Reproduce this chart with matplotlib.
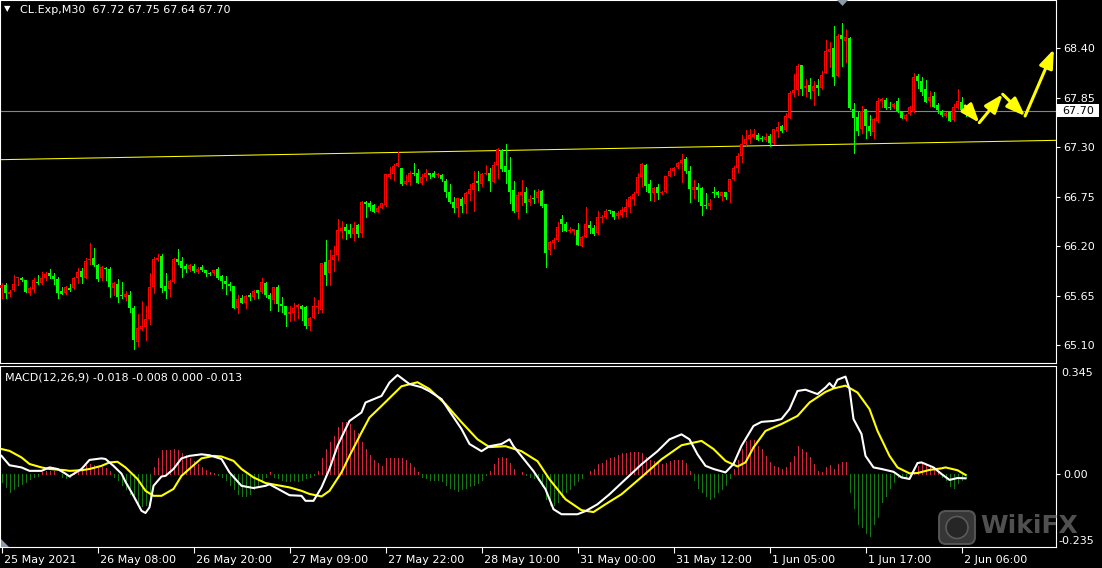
import matplotlib
matplotlib.use("Agg")
import matplotlib.pyplot as plt
import numpy as np
from matplotlib.patches import Rectangle, Polygon, FancyBboxPatch, Circle
from matplotlib.transforms import ScaledTranslation, Affine2D

# ---------------- data ----------------
opens = [65.730, 65.767, 65.667, 65.708, 65.845, 65.848, 65.822, 65.682, 65.719, 65.804,
         65.793, 65.841, 65.896, 65.867, 65.833, 65.700, 65.682, 65.737, 65.730, 65.841,
         65.922, 65.848, 66.045, 66.067, 65.989, 65.848, 65.959, 65.945, 65.737, 65.774,
         65.656, 65.637, 65.656, 65.511, 65.137, 65.274, 65.300, 65.393, 65.748, 66.048,
         66.089, 65.756, 65.719, 65.796, 66.056, 66.034, 65.978, 65.941, 65.975, 65.911,
         65.967, 65.933, 65.900, 65.900, 65.945, 65.870, 65.811, 65.782, 65.756, 65.508,
         65.622, 65.563, 65.660, 65.630, 65.711, 65.693, 65.785, 65.656, 65.604, 65.745,
         65.556, 65.534, 65.448, 65.452, 65.519, 65.534, 65.522, 65.315, 65.404, 65.526,
         65.489, 66.019, 65.896, 66.045, 66.100, 66.370, 66.407, 66.378, 66.330, 66.433,
         66.341, 66.685, 66.682, 66.656, 66.582, 66.619, 66.656, 66.963, 66.999, 67.093,
         67.070, 66.885, 66.915, 67.015, 67.015, 66.904, 66.963, 67.015, 67.015, 66.985,
         66.993, 66.926, 66.800, 66.693, 66.619, 66.722, 66.663, 66.774, 66.822, 66.922,
         66.889, 67.004, 67.008, 66.915, 67.100, 67.267, 67.089, 67.045, 66.822, 66.581,
         66.770, 66.804, 66.685, 66.737, 66.730, 66.815, 66.667, 66.156, 66.230, 66.267,
         66.500, 66.444, 66.372, 66.370, 66.378, 66.204, 66.304, 66.430, 66.396, 66.348,
         66.507, 66.518, 66.592, 66.589, 66.533, 66.544, 66.581, 66.637, 66.726, 66.785,
         66.970, 67.100, 66.885, 66.793, 66.852, 66.793, 66.804, 66.981, 67.037, 67.074,
         67.119, 67.163, 67.033, 66.826, 66.856, 66.848, 66.652, 66.645, 66.796, 66.804,
         66.759, 66.800, 66.796, 66.944, 67.070, 67.200, 67.330, 67.393, 67.415, 67.433,
         67.398, 67.378, 67.426, 67.341, 67.481, 67.533, 67.489, 67.626, 67.900, 67.933,
         68.211, 67.959, 67.989, 67.926, 67.989, 67.952, 68.126, 68.352, 68.404, 68.093,
         68.544, 68.481, 68.507, 67.719, 67.633, 67.496, 67.722, 67.533, 67.470, 67.593,
         67.811, 67.822, 67.740, 67.748, 67.811, 67.704, 67.611, 67.663, 67.693, 68.089,
         68.033, 67.944, 67.815, 67.867, 67.767, 67.704, 67.644, 67.693, 67.600, 67.730,
         67.796, 67.72]
highs = [65.785, 65.785, 65.708, 65.878, 65.859, 65.859, 65.822, 65.748, 65.848, 65.878,
         65.915, 65.915, 65.945, 65.896, 65.852, 65.748, 65.759, 65.774, 65.859, 65.952,
         65.959, 66.063, 66.230, 66.174, 65.996, 65.982, 65.971, 65.963, 65.804, 65.833,
         65.796, 65.700, 65.700, 65.534, 65.441, 65.589, 65.537, 65.896, 66.082, 66.111,
         66.115, 65.896, 65.822, 66.063, 66.167, 66.082, 66.000, 66.000, 65.996, 65.963,
         65.985, 65.933, 65.915, 65.930, 65.967, 65.878, 65.867, 65.804, 65.756, 65.656,
         65.656, 65.656, 65.674, 65.711, 65.711, 65.841, 65.800, 65.674, 65.741, 65.763,
         65.630, 65.534, 65.534, 65.563, 65.552, 65.545, 65.530, 65.415, 65.637, 65.600,
         66.015, 66.267, 66.156, 66.200, 66.500, 66.478, 66.445, 66.445, 66.463, 66.445,
         66.700, 66.700, 66.696, 66.663, 66.645, 66.682, 67.000, 67.074, 67.108, 67.241,
         67.070, 66.989, 67.033, 67.126, 67.056, 66.996, 67.056, 67.015, 67.033, 67.015,
         67.004, 66.944, 66.885, 66.741, 66.737, 66.748, 66.804, 66.885, 67.033, 67.033,
         67.008, 67.100, 67.063, 67.130, 67.285, 67.278, 67.333, 67.193, 66.922, 66.796,
         66.933, 66.859, 66.767, 66.822, 66.833, 66.822, 66.667, 66.256, 66.285, 66.463,
         66.544, 66.463, 66.415, 66.385, 66.452, 66.315, 66.630, 66.478, 66.433, 66.589,
         66.544, 66.607, 66.600, 66.589, 66.589, 66.630, 66.722, 66.756, 66.804, 67.008,
         67.126, 67.108, 66.933, 66.852, 66.885, 66.811, 66.981, 67.070, 67.081, 67.130,
         67.222, 67.185, 67.089, 66.933, 66.904, 66.852, 66.785, 66.719, 66.859, 66.811,
         66.804, 66.800, 66.944, 67.089, 67.230, 67.433, 67.489, 67.496, 67.496, 67.452,
         67.422, 67.452, 67.444, 67.504, 67.581, 67.544, 67.674, 67.922, 68.107, 68.218,
         68.211, 68.056, 68.063, 68.037, 68.052, 68.144, 68.489, 68.470, 68.644, 68.556,
         68.674, 68.607, 68.526, 67.785, 67.685, 67.756, 67.722, 67.656, 67.619, 67.841,
         67.841, 67.841, 67.796, 67.789, 67.841, 67.704, 67.667, 67.759, 68.119, 68.107,
         68.081, 68.044, 67.922, 67.915, 67.785, 67.711, 67.693, 67.700, 67.774, 67.944,
         67.859, 67.75]
lows = [65.626, 65.619, 65.648, 65.700, 65.767, 65.815, 65.693, 65.656, 65.693, 65.778,
        65.778, 65.822, 65.848, 65.778, 65.626, 65.667, 65.671, 65.700, 65.722, 65.785,
        65.785, 65.841, 65.996, 65.982, 65.811, 65.822, 65.822, 65.637, 65.656, 65.574,
        65.619, 65.600, 65.463, 65.056, 65.093, 65.267, 65.156, 65.333, 65.682, 66.037,
        65.693, 65.626, 65.648, 65.785, 65.996, 65.859, 65.915, 65.922, 65.915, 65.896,
        65.926, 65.867, 65.878, 65.874, 65.837, 65.737, 65.667, 65.711, 65.515, 65.460,
        65.563, 65.508, 65.600, 65.608, 65.626, 65.682, 65.630, 65.489, 65.563, 65.478,
        65.470, 65.315, 65.370, 65.378, 65.404, 65.378, 65.293, 65.267, 65.404, 65.452,
        65.470, 65.767, 65.767, 65.926, 66.045, 66.285, 66.278, 66.304, 66.267, 66.304,
        66.304, 66.526, 66.600, 66.582, 66.582, 66.619, 66.645, 66.952, 66.933, 67.093,
        66.878, 66.885, 66.878, 66.989, 66.904, 66.889, 66.933, 66.959, 66.967, 66.967,
        66.926, 66.748, 66.682, 66.581, 66.537, 66.581, 66.570, 66.711, 66.592, 66.822,
        66.870, 67.000, 66.815, 66.915, 66.952, 67.033, 66.904, 66.682, 66.581, 66.507,
        66.656, 66.581, 66.656, 66.674, 66.693, 66.637, 65.970, 66.111, 66.174, 66.256,
        66.367, 66.370, 66.359, 66.330, 66.211, 66.204, 66.296, 66.341, 66.322, 66.333,
        66.470, 66.507, 66.563, 66.496, 66.507, 66.518, 66.533, 66.581, 66.656, 66.767,
        66.870, 66.815, 66.711, 66.704, 66.719, 66.778, 66.796, 66.981, 66.989, 67.063,
        66.915, 67.007, 66.693, 66.730, 66.704, 66.544, 66.626, 66.611, 66.748, 66.750,
        66.711, 66.719, 66.693, 66.933, 67.026, 67.137, 67.322, 67.341, 67.396, 67.378,
        67.370, 67.363, 67.311, 67.330, 67.415, 67.470, 67.481, 67.619, 67.870, 67.878,
        67.878, 67.870, 67.848, 67.767, 67.878, 67.944, 68.119, 68.193, 67.989, 68.093,
        68.204, 68.248, 67.722, 67.237, 67.433, 67.459, 67.404, 67.433, 67.404, 67.581,
        67.748, 67.719, 67.722, 67.737, 67.693, 67.626, 67.600, 67.656, 67.685, 67.952,
        67.878, 67.796, 67.759, 67.748, 67.674, 67.648, 67.637, 67.593, 67.593, 67.722,
        67.685, 67.64]
closes = [65.767, 65.682, 65.693, 65.774, 65.850, 65.822, 65.693, 65.730, 65.822, 65.785,
          65.841, 65.889, 65.867, 65.833, 65.682, 65.667, 65.745, 65.711, 65.841, 65.908,
          65.859, 66.034, 66.056, 65.989, 65.833, 65.971, 65.948, 65.748, 65.785, 65.637,
          65.645, 65.667, 65.515, 65.156, 65.285, 65.311, 65.389, 65.745, 66.059, 66.070,
          65.737, 65.700, 65.811, 66.056, 66.019, 65.959, 65.948, 65.989, 65.926, 65.941,
          65.933, 65.900, 65.893, 65.930, 65.845, 65.815, 65.778, 65.756, 65.515, 65.608,
          65.563, 65.641, 65.634, 65.697, 65.678, 65.796, 65.660, 65.611, 65.741, 65.559,
          65.537, 65.437, 65.470, 65.515, 65.541, 65.504, 65.315, 65.396, 65.533, 65.537,
          66.008, 65.878, 66.045, 66.096, 66.378, 66.400, 66.370, 66.333, 66.404, 66.330,
          66.685, 66.667, 66.637, 66.582, 66.619, 66.674, 66.999, 67.000, 67.089, 67.119,
          66.885, 66.922, 67.008, 66.996, 66.904, 66.970, 67.015, 66.989, 66.967, 66.993,
          66.941, 66.796, 66.685, 66.626, 66.730, 66.648, 66.793, 66.830, 66.904, 66.896,
          66.996, 67.015, 66.922, 67.100, 67.278, 67.056, 67.026, 66.804, 66.589, 66.767,
          66.796, 66.674, 66.722, 66.719, 66.804, 66.644, 66.126, 66.241, 66.267, 66.407,
          66.441, 66.370, 66.378, 66.385, 66.211, 66.300, 66.441, 66.404, 66.333, 66.518,
          66.526, 66.589, 66.585, 66.526, 66.570, 66.600, 66.630, 66.748, 66.778, 66.963,
          67.111, 66.870, 66.793, 66.841, 66.793, 66.800, 66.978, 67.033, 67.063, 67.119,
          67.156, 67.037, 66.833, 66.856, 66.822, 66.648, 66.645, 66.682, 66.785, 66.762,
          66.796, 66.748, 66.944, 67.070, 67.200, 67.333, 67.389, 67.433, 67.444, 67.378,
          67.393, 67.415, 67.348, 67.496, 67.526, 67.478, 67.644, 67.896, 67.933, 68.200,
          67.944, 67.982, 67.915, 67.978, 67.952, 68.100, 68.367, 68.385, 68.081, 68.533,
          68.496, 68.518, 67.730, 67.619, 67.481, 67.704, 67.533, 67.481, 67.611, 67.811,
          67.833, 67.730, 67.737, 67.778, 67.704, 67.626, 67.656, 67.741, 68.074, 68.037,
          67.915, 67.804, 67.859, 67.748, 67.711, 67.656, 67.674, 67.593, 67.741, 67.811,
          67.711, 67.70]

# MACD main line (white) and signal line (yellow), read at bar indices
macd_idx = [0, 2, 5, 7, 10, 12, 14, 16, 17, 20, 22, 25, 26, 28, 30, 31, 33, 35, 36, 37,
            38, 40, 41, 43, 45, 47, 50, 52, 55, 57, 60, 63, 66, 67, 70, 72, 75, 76, 78, 80,
            82, 84, 86, 87, 90, 91, 95, 97, 99, 102, 105, 107, 110, 112, 115, 117, 120, 122, 125, 127,
            128, 131, 133, 136, 138, 140, 144, 146, 149, 152, 156, 160, 164, 167, 170, 172, 174, 176, 178, 181,
            183, 185, 188, 190, 193, 195, 197, 199, 201, 204, 206, 207, 208, 209, 211, 212, 213, 215, 216, 218,
            220, 223, 225, 227, 229, 230, 233, 235, 237, 239, 241]
macd_vals = [0.057, 0.027, 0.020, 0.009, 0.009, 0.020, 0.015, 0.000, -0.009, 0.015, 0.044, 0.049, 0.047, 0.025, 0.000, -0.026, -0.071, -0.119, -0.126, -0.108,
             -0.039, -0.009, -0.007, 0.015, 0.049, 0.057, 0.062, 0.059, 0.047, 0.004, -0.039, -0.046, -0.039, -0.034, -0.055, -0.069, -0.071, -0.087, -0.087, -0.044,
             0.015, 0.089, 0.143, 0.169, 0.196, 0.228, 0.249, 0.292, 0.316, 0.287, 0.277, 0.264, 0.239, 0.200, 0.143, 0.095, 0.072, 0.088, 0.095, 0.110,
             0.088, 0.040, 0.008, -0.050, -0.114, -0.130, -0.130, -0.120, -0.098, -0.066, -0.018, 0.030, 0.072, 0.110, 0.126, 0.110, 0.062, 0.025, 0.015, 0.004,
             0.031, 0.089, 0.153, 0.166, 0.169, 0.175, 0.207, 0.265, 0.269, 0.255, 0.276, 0.290, 0.276, 0.301, 0.311, 0.271, 0.175, 0.127, 0.057, 0.020,
             0.015, 0.006, -0.012, -0.017, 0.034, 0.036, 0.020, -0.001, -0.020, -0.014, -0.015]
signal_idx = [0, 2, 5, 7, 10, 12, 16, 17, 20, 22, 25, 27, 29, 31, 34, 36, 38, 40, 43, 45,
              48, 50, 53, 55, 58, 60, 63, 66, 69, 72, 75, 77, 80, 82, 85, 87, 90, 92, 95, 100,
              104, 107, 111, 115, 119, 122, 126, 130, 134, 137, 141, 145, 148, 151, 155, 160, 165, 170, 175, 178,
              181, 184, 186, 188, 191, 195, 199, 202, 206, 208, 211, 214, 217, 219, 222, 224, 227, 229, 232, 235,
              236, 239, 241]
signal_vals = [0.079, 0.073, 0.052, 0.031, 0.020, 0.015, 0.011, 0.009, 0.011, 0.015, 0.025, 0.036, 0.038, 0.020, -0.017, -0.055, -0.071, -0.071, -0.049, -0.007,
               0.027, 0.049, 0.057, 0.055, 0.041, 0.015, -0.012, -0.030, -0.037, -0.044, -0.055, -0.065, -0.073, -0.055, 0.004, 0.057, 0.132, 0.180, 0.217, 0.280,
               0.293, 0.271, 0.223, 0.165, 0.110, 0.085, 0.088, 0.072, 0.040, -0.018, -0.082, -0.117, -0.123, -0.098, -0.066, -0.011, 0.046, 0.091, 0.105, 0.079,
               0.041, 0.023, 0.036, 0.084, 0.137, 0.159, 0.185, 0.228, 0.262, 0.273, 0.282, 0.260, 0.207, 0.137, 0.057, 0.020, 0.001, 0.002, 0.012, 0.017,
               0.020, 0.011, -0.004]
# histogram, one value per bar
hist_vals = [-0.028, -0.044, -0.060, -0.050, -0.039, -0.034, -0.028, -0.017, -0.012, -0.007,
             0.005, 0.009, 0.010, 0.008, 0.000, -0.010, -0.015, -0.012, 0.005, 0.012,
             0.020, 0.028, 0.030, 0.028, 0.025, 0.020, 0.018, 0.010, -0.010, -0.020,
             -0.035, -0.050, -0.065, -0.080, -0.095, -0.105, -0.100, -0.090, 0.020, 0.050,
             0.075, 0.075, 0.075, 0.080, 0.075, 0.065, 0.060, 0.050, 0.040, 0.030,
             0.020, 0.012, 0.005, 0.002, -0.003, -0.010, -0.020, -0.035, -0.050, -0.065,
             -0.070, -0.070, -0.065, -0.050, -0.035, -0.020, -0.010, 0.005, -0.010, -0.015,
             -0.020, -0.025, -0.025, -0.020, -0.025, -0.020, -0.015, -0.010, -0.005, 0.010,
             0.050, 0.080, 0.100, 0.120, 0.150, 0.165, 0.165, 0.160, 0.140, 0.130,
             0.100, 0.080, 0.060, 0.045, 0.035, 0.025, 0.050, 0.050, 0.050, 0.050,
             0.050, 0.045, 0.035, 0.020, 0.005, -0.010, -0.015, -0.020, -0.020, -0.020,
             -0.025, -0.035, -0.045, -0.050, -0.055, -0.050, -0.045, -0.040, -0.035, -0.030,
             -0.020, -0.005, 0.010, 0.030, 0.050, 0.055, 0.050, 0.035, 0.015, 0.000,
             0.005, -0.005, -0.010, -0.015, -0.020, -0.040, -0.080, -0.100, -0.100, -0.090,
             -0.075, -0.060, -0.050, -0.035, -0.025, -0.015, 0.000, 0.010, 0.015, 0.030,
             0.035, 0.045, 0.050, 0.055, 0.060, 0.065, 0.065, 0.070, 0.070, 0.070,
             0.065, 0.055, 0.045, 0.040, 0.035, 0.030, 0.035, 0.040, 0.045, 0.045,
             0.045, 0.035, 0.010, -0.020, -0.045, -0.060, -0.070, -0.080, -0.075, -0.060,
             -0.050, -0.035, -0.015, 0.015, 0.045, 0.080, 0.105, 0.108, 0.107, 0.090,
             0.080, 0.057, 0.036, 0.025, 0.020, 0.015, 0.020, 0.036, 0.057, 0.089,
             0.078, 0.068, 0.052, 0.030, 0.010, 0.004, 0.020, 0.028, 0.015, 0.030,
             0.036, 0.036, -0.060, -0.110, -0.160, -0.170, -0.190, -0.200, -0.160, -0.140,
             -0.090, -0.070, -0.045, -0.028, -0.012, -0.008, -0.010, -0.005, 0.005, 0.025,
             0.030, 0.030, 0.028, 0.020, 0.010, -0.010, -0.020, -0.040, -0.045, -0.030,
             -0.020, -0.013]

price_ticks = [68.40, 67.85, 67.30, 66.75, 66.20, 65.65, 65.10]
price_labels = ["68.40", "67.85", "67.30", "66.75", "66.20", "65.65", "65.10"]
time_ticks = [0, 24, 48, 72, 96, 120, 144, 168, 192, 216, 240]
time_labels = ["25 May 2021", "26 May 08:00", "26 May 20:00", "27 May 09:00", "27 May 22:00",
               "28 May 10:00", "31 May 00:00", "31 May 12:00", "1 Jun 05:00", "1 Jun 17:00",
               "2 Jun 06:00"]
last_price = 67.70
trend_x = [-0.375, 263.625]
trend_y = [67.159, 67.374]
forecast_x = [240.9, 244.45, 250.3, 255.9, 263.1]
forecast_y = [67.756, 67.570, 67.886, 67.644, 68.386]
header = "CL.Exp,M30  67.72 67.75 67.64 67.70"
macd_title = "MACD(12,26,9) -0.018 -0.008 0.000 -0.013"

# ---------------- figure ----------------
W, H = 1102, 568
fig = plt.figure(figsize=(W / 100, H / 100), dpi=100, facecolor="black")
pix = Affine2D().scale(1, -1).translate(0, H)  # top-origin pixel coords


def rect(x0, y0, x1, y1):
    return [x0 / W, 1 - y1 / H, (x1 - x0) / W, (y1 - y0) / H]


ax = fig.add_axes(rect(0, 0, 1056, 363))
axm = fig.add_axes(rect(0, 366, 1056, 547))
for a in (ax, axm):
    a.set_facecolor("black")
    for s in a.spines.values():
        s.set_color("white")
        s.set_linewidth(0.8)
    a.set_xlim(-0.375, 263.625)

ax.set_ylim(68.40 - (363 - 48) / 90.0, 68.40 + 48 / 90.0)
axm.set_ylim(-0.235, 0.345)
PX = 1 / 90.0  # one pixel in price units

o = np.array(opens); h = np.array(highs); l = np.array(lows); c = np.array(closes)
x = np.arange(len(c))
bull = c >= o
up_col, dn_col = "#ff0000", "#00ff00"

ax.axhline(last_price, color="#778899", lw=0.8, zorder=1)
ax.plot(trend_x, trend_y, color="#ffff00", lw=0.75, zorder=2)

# wicks
ax.vlines(x[bull], l[bull], h[bull], color=up_col, lw=0.72, antialiased=False, zorder=3)
ax.vlines(x[~bull], l[~bull], h[~bull], color=dn_col, lw=0.72, antialiased=False, zorder=3)
# bull bodies: red 3px box with 1px black interior
bh = np.maximum(c[bull] - o[bull], PX)
ax.bar(x[bull], bh, bottom=o[bull], width=0.75, color=up_col, linewidth=0,
       antialiased=False, zorder=4)
inner = (c[bull] - o[bull]) > 2.2 * PX
ax.bar(x[bull][inner], (c[bull] - o[bull])[inner] - 2 * PX, bottom=o[bull][inner] + PX,
       width=0.25, color="black", linewidth=0, antialiased=False, zorder=5)
# bear bodies: solid green 3px
dh = np.maximum(o[~bull] - c[~bull], PX)
ax.bar(x[~bull], dh, bottom=c[~bull], width=0.75, color=dn_col, linewidth=0,
       antialiased=False, zorder=4)

for k in range(len(forecast_x) - 1):
    ax.annotate("", xy=(forecast_x[k + 1], forecast_y[k + 1]),
                xytext=(forecast_x[k], forecast_y[k]),
                arrowprops=dict(arrowstyle="-|>,head_length=0.8,head_width=0.3",
                                color="#ffff00", lw=2.2, mutation_scale=14,
                                shrinkA=0, shrinkB=0), zorder=6)

ax.set_xticks([])
ax.yaxis.tick_right()
ax.set_yticks(price_ticks)
ax.set_yticklabels(price_labels)
ax.tick_params(axis="y", colors="white", labelsize=8, length=3, width=0.8, pad=2.5)

# MACD panel
hv = np.array(hist_vals)
hcols = np.where(hv > 0, "#d2283f", "#157a15")
axm.vlines(x, 0, hv, colors=hcols, lw=0.72, antialiased=False, zorder=2)
axm.plot(signal_idx, signal_vals, color="#ffff00", lw=1.5, zorder=3)
axm.plot(macd_idx, macd_vals, color="white", lw=1.5, zorder=4)

axm.yaxis.tick_right()
axm.set_yticks([0.0])
axm.set_yticklabels(["0.00"])
axm.tick_params(axis="y", colors="white", labelsize=8, length=3, width=0.8, pad=2.5)
axm.set_xticks(time_ticks)
axm.set_xticklabels(time_labels)
axm.tick_params(axis="x", colors="white", labelsize=8, length=4, width=0.8, pad=1.5)
off = ScaledTranslation(2 / 100, 0, fig.dpi_scale_trans)
for lbl in axm.get_xticklabels():
    lbl.set_ha("left")
    lbl.set_transform(lbl.get_transform() + off)

fig.text(1061 / W, 1 - 368 / H, "0.345", color="white", fontsize=8, va="top", ha="left")
fig.text(1058 / W, 1 - 546 / H, "-0.235", color="white", fontsize=8, va="bottom", ha="left")

# headers
fig.text(4 / W, 1 - 9 / H, "\u25BC", color="white", fontsize=6, va="center", ha="left")
fig.text(20 / W, 1 - 10 / H, header, color="white", fontsize=8, va="center", ha="left")
fig.text(5 / W, 1 - 377 / H, macd_title, color="white", fontsize=8, va="center", ha="left")

# current price box
box = Rectangle((1057, 117), 42, -13, facecolor="white", edgecolor="none", transform=pix)
fig.add_artist(box)
fig.text(1078 / W, 1 - 110.5 / H, "67.70", color="black", fontsize=8, va="center", ha="center")

# small gray markers
fig.add_artist(Polygon([(837, 0), (848, 0), (842.5, 6)], closed=True, facecolor="#8a9aa8",
                       edgecolor="none", transform=pix))
fig.add_artist(Polygon([(1, 539), (1, 547), (9, 547)], closed=True, facecolor="#8a9aa8",
                       edgecolor="none", transform=pix))

# watermark
logo = FancyBboxPatch((939, 511), 36, 33, boxstyle="round,pad=0,rounding_size=7",
                      facecolor="#3d3d3d", edgecolor="#5a5a5a", lw=1.5, transform=pix, alpha=0.9)
fig.add_artist(logo)
fig.add_artist(Circle((957, 527.5), 11, facecolor="#262626", edgecolor="#5a5a5a", lw=1.2, transform=pix))
fig.text(980 / W, 1 - 526 / H, "WikiFX", color="#555555", fontsize=18, fontweight="bold",
         va="center", ha="left", alpha=0.95)

fig.savefig("out.png", dpi=100, facecolor="black")
